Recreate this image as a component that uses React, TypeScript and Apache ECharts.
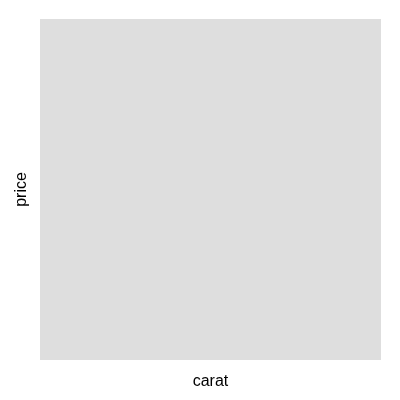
import { useEffect, useRef } from 'react';
import * as echarts from 'echarts';

// the reference panel is empty: no points were drawn
const carat: number[] = [];
const price: number[] = [];

const xName = 'carat';
const yName = 'price';

export default function App() {
  const chartRef = useRef<HTMLDivElement>(null);

  useEffect(() => {
    if (!chartRef.current) return;
    const chart = echarts.init(chartRef.current, undefined, { renderer: 'svg' });

    const hiddenAxis = {
      type: 'value' as const,
      nameLocation: 'middle' as const,
      nameTextStyle: { color: '#000000', fontSize: 16, fontFamily: 'Liberation Sans, Arial, sans-serif' },
      axisLine: { show: false },
      axisTick: { show: false },
      axisLabel: { show: false },
      splitLine: { show: false },
      min: 0,
      max: 1,
    };

    chart.setOption({
      animation: false,
      grid: {
        left: 40,
        top: 19,
        width: 341,
        height: 341,
        show: true,
        backgroundColor: '#dedede',
        borderWidth: 0,
      },
      xAxis: { ...hiddenAxis, name: xName, nameGap: 12 },
      yAxis: { ...hiddenAxis, name: yName, nameGap: 12 },
      series: [
        {
          type: 'scatter',
          data: carat.map((c, i) => [c, price[i]]),
          symbolSize: 4,
          itemStyle: { color: '#000000' },
        },
      ],
    });

    return () => chart.dispose();
  }, []);

  return (
    <div
      ref={chartRef}
      style={{ position: 'fixed', left: 0, top: 0, width: 400, height: 400 }}
    />
  );
}
